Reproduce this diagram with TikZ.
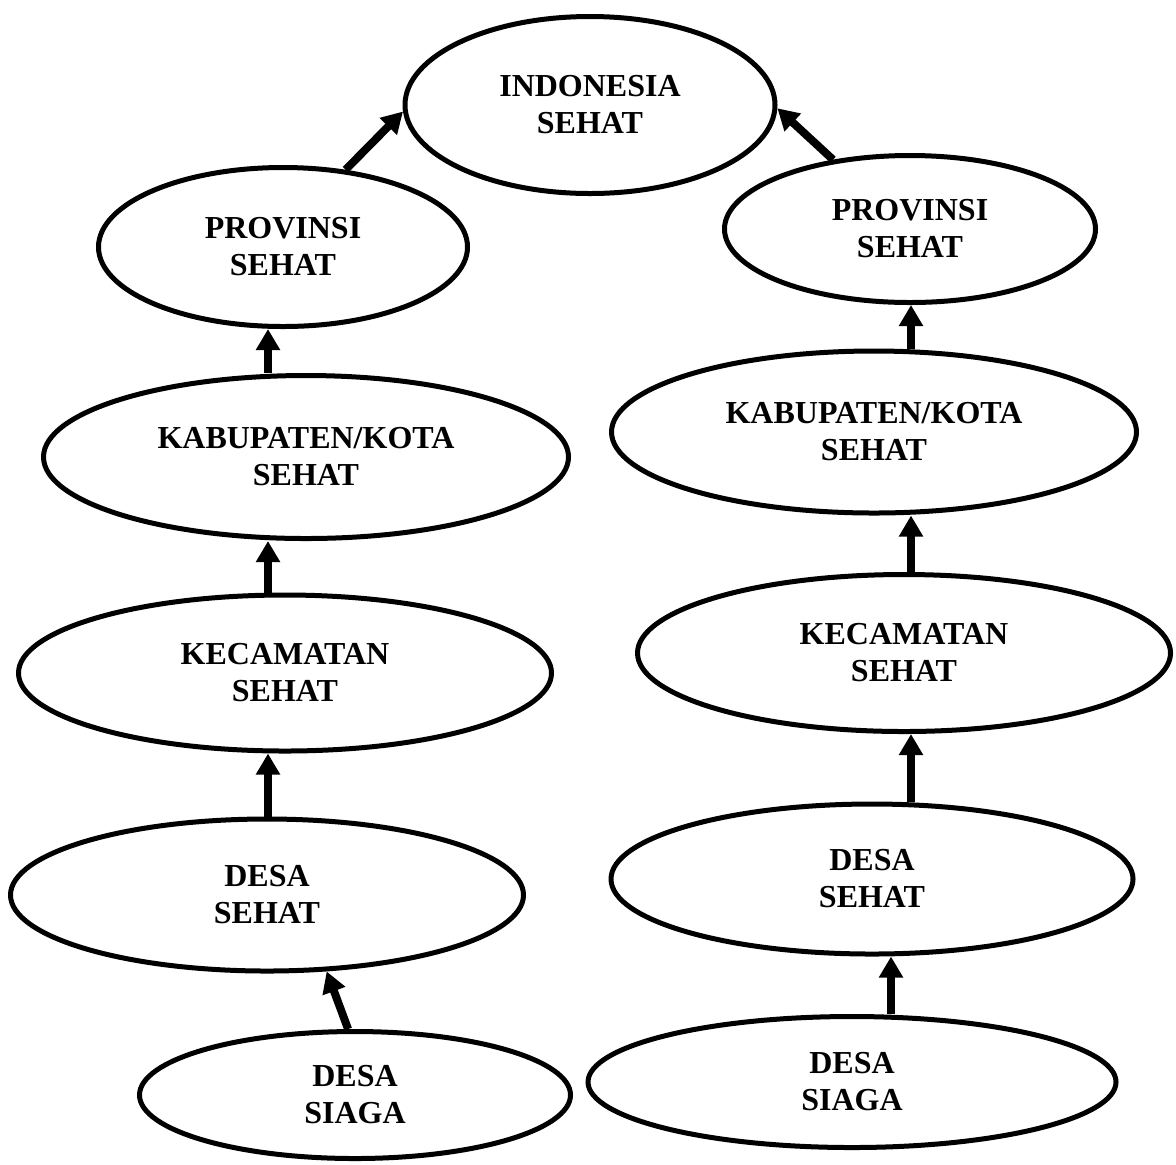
\documentclass[tikz,border=0pt]{standalone}
\usepackage{fontspec}
\setmainfont{Liberation Serif}
\usetikzlibrary{shapes.geometric,arrows.meta,positioning}

\begin{document}
\begin{tikzpicture}[
  x=0.5pt, y=-0.5pt,
  oval/.style={ellipse, draw, line width=2.5pt, inner sep=0pt, align=center,
    font=\fontsize{16}{18.5}\selectfont\bfseries},
  up/.style={-{Triangle[length=10.5pt,width=11.5pt]}, line width=4pt}
]
  \useasboundingbox (0,0) rectangle (1176,1164);

  % Levels
  \node[oval, minimum width=185pt, minimum height=88.5pt] (indo) at (590,105) {INDONESIA\\SEHAT};
  \node[oval, minimum width=184.5pt, minimum height=79.5pt] (provL) at (283,247) {PROVINSI\\SEHAT};
  \node[oval, minimum width=185.5pt, minimum height=73.5pt] (provR) at (910,229) {PROVINSI\\SEHAT};
  \node[oval, minimum width=262.5pt, minimum height=81.5pt] (kabL) at (306,457) {KABUPATEN/KOTA\\SEHAT};
  \node[oval, minimum width=262.5pt, minimum height=81pt] (kabR) at (874,432) {KABUPATEN/KOTA\\SEHAT};
  \node[oval, minimum width=266.5pt, minimum height=78pt] (kecL) at (285,673) {KECAMATAN\\SEHAT};
  \node[oval, minimum width=266.5pt, minimum height=78.5pt] (kecR) at (904,653) {KECAMATAN\\SEHAT};
  \node[oval, minimum width=256.5pt, minimum height=76pt] (desaL) at (267,895) {DESA\\SEHAT};
  \node[oval, minimum width=261pt, minimum height=75pt] (desaR) at (872,879) {DESA\\SEHAT};
  \node[oval, minimum width=215.5pt, minimum height=63.5pt] (siagaL) at (355,1095) {DESA\\SIAGA};
  \node[oval, minimum width=264pt, minimum height=65.5pt] (siagaR) at (852,1082) {DESA\\SIAGA};

  % Columns of the arrows
  \coordinate (colL) at (268,0);
  \coordinate (colR) at (911,0);
  \coordinate (colS) at (891,0);

  % Arrows
  \draw[up] (provL.51) -- (indo.182);
  \draw[up] (provR.138) -- (indo.-1);

  \draw[up] (kabL.north -| colL) -- (provL.south -| colL);
  \draw[up] (kecL.north -| colL) -- (kabL.south -| colL);
  \draw[up] (desaL.north -| colL) -- (kecL.south -| colL);
  \draw[up] (siagaL.96) -- (desaL.308);

  \draw[up] (kabR.north -| colR) -- (provR.south -| colR);
  \draw[up] (kecR.north -| colR) -- (kabR.south -| colR);
  \draw[up] (desaR.north -| colR) -- (kecR.south -| colR);
  \draw[up] (siagaR.north -| colS) -- (desaR.south -| colS);

\end{tikzpicture}
\end{document}
